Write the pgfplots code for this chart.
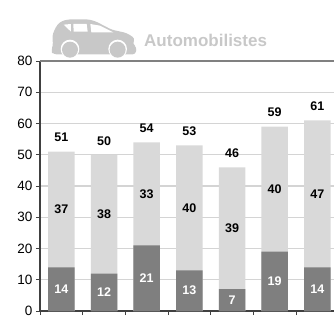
\documentclass[border=0pt]{standalone}
\usepackage{pgfplots}
\usepackage{pgfplotstable}
\usepackage{fontspec}
\setmainfont{Liberation Sans}
\pgfplotsset{compat=1.18}

\definecolor{lightbar}{HTML}{D9D9D9}
\definecolor{darkbar}{HTML}{7F7F7F}
\definecolor{gridgray}{HTML}{D4D4D4}
\definecolor{cargray}{HTML}{C8C8C8}

% x, dark part, whole bar, label of the light part, middle of the light part
\pgfplotstableread{
x dark total light mid
0 14 51 37 32.5
1 12 50 38 31
2 21 54 33 37.5
3 13 53 40 33
4 7 46 39 26.5
5 19 59 40 39
6 14 61 47 37.5
}\cardata

\begin{document}
\begin{tikzpicture}
\useasboundingbox (0,0) rectangle (334pt,322pt);
\clip (0,0) rectangle (334pt,322pt);

% car icon, coordinates in 3x pixels of the picture
\begin{scope}[shift={(45pt,307pt)},x=0.3333pt,y=-0.3333pt]
\fill[cargray,rounded corners=3pt] (24,92) -- (22,62) -- (27,48) -- (36,30) -- (50,18) -- (72,13)
  -- (130,13) -- (152,19) -- (200,44) -- (245,54) -- (270,70) -- (263,88)
  -- (275,96) -- (272,118) -- (25,118) -- (18,108) -- cycle;
\fill[white] (56,29) -- (78,27) -- (78,50) -- cycle;
\fill[white] (85,27) -- (125,27) -- (128,50) -- (86,50) -- cycle;
\fill[white] (136,27) -- (165,32) -- (205,52) -- (139,52) -- cycle;
\fill[white] (75,102) circle (28);
\fill[white] (218,102) circle (28);
\fill[cargray] (75,104) circle (24);
\fill[cargray] (218,104) circle (24);
\end{scope}

\node[anchor=base west,inner sep=0pt,text=cargray,font=\fontsize{17}{20}\selectfont\bfseries]
  at (144pt,276pt) {Automobilistes};

\begin{axis}[
    at={(40pt,11pt)},
    anchor=south west,
    scale only axis,
    width=294pt,
    height=250pt,
    xmin=-0.5, xmax=6.39,
    ymin=0, ymax=80,
    xtick={-0.5,0.5,1.5,2.5,3.5,4.5,5.5},
    xticklabels={},
    ytick={0,10,20,30,40,50,60,70,80},
    tick align=outside,
    major tick length=4pt,
    tick style={color=black!75,line width=0.8pt},
    ymajorgrids=true,
    grid style={gridgray,line width=1.2pt},
    axis line style={black!75,line width=1.1pt},
    axis y line*=left,
    axis x line*=bottom,
    tick label style={font=\fontsize{13.5}{15}\selectfont},
    /pgf/number format/assume math mode=true,
    clip=true,
]
\addplot[ybar,bar shift=0pt,bar width=26.5pt,fill=lightbar,draw=none]
    table[x=x,y=total] {\cardata};
\addplot[ybar,bar shift=0pt,bar width=26.5pt,fill=darkbar,draw=none]
    table[x=x,y=dark] {\cardata};

\pgfplotsset{barlabel/.style={only marks,mark=none,point meta=explicit,
    nodes near coords,nodes near coords align={anchor=center},
    every node near coord/.append style={font=\fontsize{12.5}{14}\selectfont\bfseries,
      /pgf/number format/assume math mode=true,inner sep=0pt}}}
% light part
\addplot[barlabel] table[x=x,y=mid,meta=light] {\cardata};
% whole bar, 14 px above its top
\addplot[barlabel,every node near coord/.append style={yshift=14pt}]
    table[x=x,y=total,meta=total] {\cardata};
% dark part, white, in its middle
\addplot[barlabel,every node near coord/.append style={text=white}]
    table[x=x,y expr=\thisrow{dark}/2,meta=dark] {\cardata};
\end{axis}

% top border of the plot
\draw[black!50,line width=1.1pt] (40pt,261pt) -- (334pt,261pt);
\end{tikzpicture}
\end{document}
